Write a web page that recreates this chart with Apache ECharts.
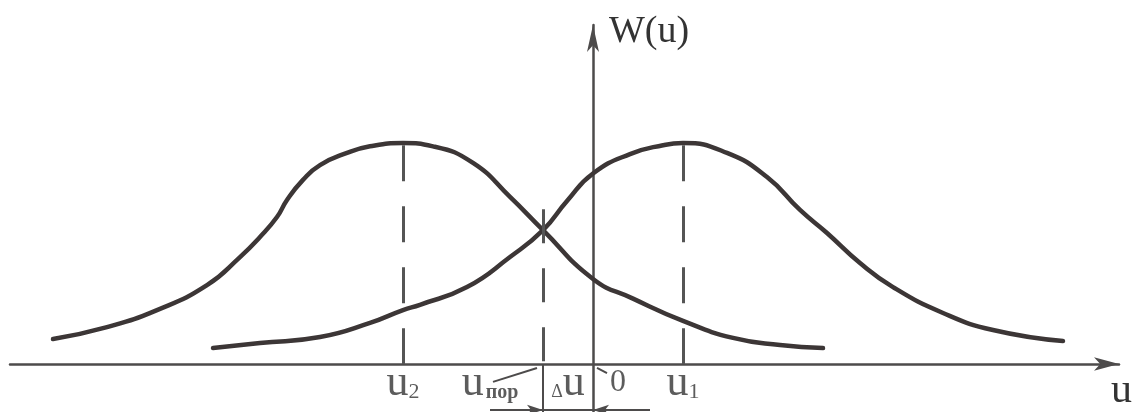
<!DOCTYPE html>
<html>
<head>
<meta charset="utf-8">
<script src="https://cdn.jsdelivr.net/npm/echarts@6/dist/echarts.min.js"></script>
<style>
html,body{margin:0;padding:0;background:#fff;}
#main{width:1135px;height:412px;}
</style>
</head>
<body>
<div id="main"></div>
<script>
// curve for u2 (left bell)
var leftU = [-54.0, -48.6, -43.6, -38.6, -35.3, -33.3, -31.6, -30.6, -29.0, -27.3, -24.6, -22.3, -19.0, -16.0, -12.0, -8.3, -5.0, 0, 4.0, 9.0, 14.0, 18.7, 23.0];
var leftW = [0.113, 0.167, 0.244, 0.357, 0.484, 0.575, 0.665, 0.742, 0.833, 0.900, 0.955, 0.985, 1.0, 0.985, 0.910, 0.756, 0.606, 0.385, 0.296, 0.195, 0.118, 0.086, 0.072];
// curve for u1 (right bell)
var rightU = [-38.0, -33.3, -27.3, -22.3, -19.0, -17.3, -12.6, -8.3, -5.0, -2.6, 0, 3.7, 7.0, 9.0, 13.4, 17.4, 20.7, 23.4, 26.7, 30.0, 35.0, 40.0, 47.0];
var rightW = [0.072, 0.095, 0.122, 0.186, 0.244, 0.268, 0.348, 0.484, 0.606, 0.738, 0.862, 0.950, 0.990, 1.0, 0.955, 0.846, 0.697, 0.593, 0.457, 0.348, 0.231, 0.154, 0.104];

// marked points on the u axis
var u2 = -19, uPor = -5, u1 = 9;
var tickValues = [u2, uPor, (uPor + 0) / 2, 0, u1];
var tickMain = ['u', 'u', 'Δu', '0', 'u'];
var tickSub = ['2', 'пор', '', '', '1'];

function zip(a, b) {
  var out = [];
  for (var i = 0; i < a.length; i++) out.push([a[i], b[i]]);
  return out;
}

var myChart = echarts.init(document.getElementById('main'));

var ink = '#3c3636';
var axisInk = '#4d4b4b';
var serif = 'Liberation Serif';

// label offsets (px) so the text sits like in the drawing
var labelOffsets = [[0, 0], [-53, 0], [0, 0], [25, 0], [0, 0]];
var labelData = tickValues.map(function (v, i) {
  var txt;
  if (tickMain[i] === 'Δu') txt = '{d|Δ}{u|u}';
  else if (tickMain[i] === '0') txt = '{n|0}';
  else if (tickSub[i] === 'пор') txt = '{u|u}{p|' + tickSub[i] + '}';
  else txt = '{u|u}{s|' + tickSub[i] + '}';
  return {
    value: [v, -0.09],
    label: { formatter: txt, offset: labelOffsets[i] }
  };
});

var dashStyle = { color: '#555', width: 3, type: [36, 25] };

var option = {
  animation: false,
  grid: { left: 10, right: 16, top: 25, bottom: 0 },
  xAxis: {
    type: 'value',
    min: -58.3,
    max: 52.6,
    name: 'u',
    nameLocation: 'end',
    nameGap: -8,
    nameTextStyle: {
      fontFamily: serif, fontSize: 42, color: '#333',
      align: 'left', verticalAlign: 'top', padding: [6, 0, 0, 0]
    },
    axisLine: {
      onZero: true,
      symbol: ['none', 'arrow'],
      symbolSize: [10, 25],
      lineStyle: { color: axisInk, width: 2.5 }
    },
    axisTick: { show: false },
    axisLabel: { show: false },
    splitLine: { show: false }
  },
  yAxis: {
    type: 'value',
    min: -0.217,
    max: 1.534,
    name: 'W(u)',
    nameLocation: 'end',
    nameGap: -7,
    nameTextStyle: {
      fontFamily: serif, fontSize: 38, color: '#333',
      align: 'left', verticalAlign: 'middle', padding: [0, 0, 0, 16]
    },
    axisLine: {
      onZero: true,
      symbol: ['none', 'arrow'],
      symbolSize: [9, 27],
      lineStyle: { color: axisInk, width: 2.5 }
    },
    axisTick: { show: false },
    axisLabel: { show: false },
    splitLine: { show: false }
  },
  series: [
    {
      name: 'W(u|u2)',
      type: 'line',
      data: zip(leftU, leftW),
      smooth: 0.5,
      showSymbol: false,
      lineStyle: { color: ink, width: 4.5, cap: 'round' },
      z: 3,
      markLine: {
        silent: true,
        symbol: 'none',
        label: { show: false },
        lineStyle: dashStyle,
        data: [
          [{ coord: [u2, 0.99] }, { coord: [u2, 0] }],
          [{ coord: [u1, 0.99] }, { coord: [u1, 0] }],
          [{ coord: [uPor, 0.70] }, { coord: [uPor, 0], lineStyle: { type: [34, 25] } }]
        ]
      }
    },
    {
      name: 'W(u|u1)',
      type: 'line',
      data: zip(rightU, rightW),
      smooth: 0.5,
      showSymbol: false,
      lineStyle: { color: ink, width: 4.5, cap: 'round' },
      z: 3,
      markLine: {
        silent: true,
        symbol: 'none',
        label: { show: false },
        lineStyle: { color: axisInk, width: 2, type: 'solid' },
        data: [
          // extension line below the axis at u_пор
          [{ coord: [uPor, 0] }, { coord: [uPor, -0.217] }],
          // leader from the u_пор label
          [{ coord: [-10.0, -0.081] }, { coord: [-5.6, -0.018] }],
          [{ coord: [0.4, -0.018] }, { coord: [1.4, -0.041] }],
          // Δu dimension line
          [{ coord: [-10.3, -0.208] }, { coord: [5.7, -0.208] }],
          [{ coord: [-10.3, -0.208], symbol: 'none' }, { coord: [uPor, -0.208], symbol: 'arrow', symbolSize: [8, 16] }],
          [{ coord: [5.7, -0.208], symbol: 'none' }, { coord: [0, -0.208], symbol: 'arrow', symbolSize: [8, 16] }]
        ]
      }
    },
    {
      name: 'labels',
      type: 'scatter',
      symbolSize: 0,
      silent: true,
      data: labelData,
      label: {
        show: true,
        position: 'inside',
        color: '#333',
        fontFamily: serif,
        rich: {
          u: { fontFamily: serif, fontSize: 44, color: '#333', verticalAlign: 'bottom' },
          s: { fontFamily: serif, fontSize: 22, color: '#333', verticalAlign: 'bottom', padding: [0, 0, 3, 0] },
          p: { fontFamily: serif, fontSize: 20, fontWeight: 'bold', color: '#333', verticalAlign: 'bottom', padding: [0, 0, 3, 2] },
          d: { fontFamily: serif, fontSize: 18, color: '#333', verticalAlign: 'bottom', padding: [0, 0, 5, 0] },
          n: { fontFamily: serif, fontSize: 32, color: '#333', verticalAlign: 'bottom', padding: [0, 0, 3, 0] }
        }
      }
    }
  ]
};
myChart.setOption(option);
</script>
</body>
</html>
